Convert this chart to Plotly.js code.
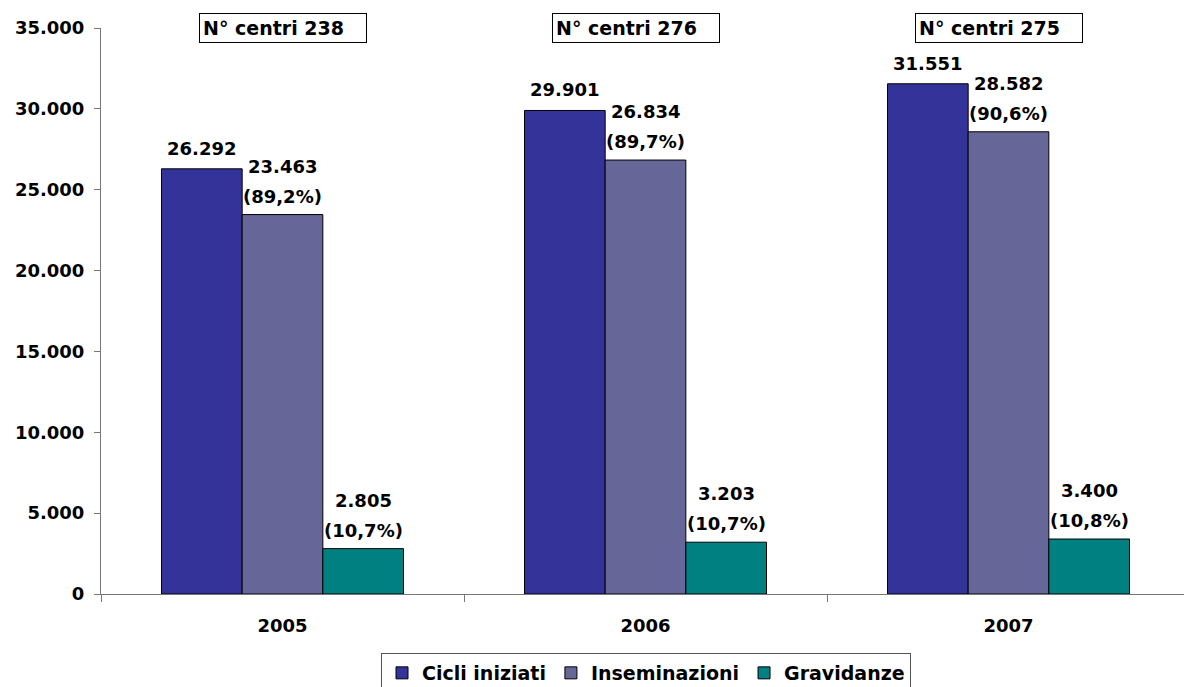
<!DOCTYPE html>
<html>
<head>
<meta charset="utf-8">
<script src="https://cdn.plot.ly/plotly-3.0.1.min.js"></script>
<style>html,body{margin:0;padding:0;background:#fff;}</style>
</head>
<body>
<div id="chart" style="width:1184px;height:687px;"></div>
<script>
// ---- data ----
var years = ["2005", "2006", "2007"];
var cicliIniziati = [26292, 29901, 31551];
var inseminazioni = [23463, 26834, 28582];
var gravidanze = [2805, 3203, 3400];
var pctInseminazioni = ["89,2%", "89,7%", "90,6%"];
var pctGravidanze = ["10,7%", "10,7%", "10,8%"];
var centriLabels = ["N° centri 238", "N° centri 276", "N° centri 275"];
var seriesNames = ["Cicli iniziati", "Inseminazioni", "Gravidanze"];

// ---- style / layout constants ----
var FONT = "DejaVu Sans, Arial, sans-serif";
var colors = ["#333399", "#666699", "#008080"];
var W = 1184, H = 687;
var mL = 101, mR = 0, mT = 28, mB = 93;
var plotW = W - mL - mR;
var catPx = 363;
var bargap = 1/3;
var barPx = catPx * (1 - bargap) / 3;

function fmt(n) { return String(n).replace(/\B(?=(\d{3})+(?!\d))/g, "."); }

var allSeries = [cicliIniziati, inseminazioni, gravidanze];
var traces = allSeries.map(function (vals, s) {
  return {
    type: "bar",
    name: seriesNames[s],
    x: years,
    y: vals,
    marker: { color: colors[s], line: { color: "#000000", width: 1 } },
    hoverinfo: "x+y+name"
  };
});

var annotations = [];
var lblFont = { family: FONT, size: 18, color: "#000", weight: "bold" };
var pctArrays = [null, pctInseminazioni, pctGravidanze];
for (var s = 0; s < 3; s++) {
  for (var i = 0; i < years.length; i++) {
    var xs = (s - 1) * barPx;
    var v = allSeries[s][i];
    if (pctArrays[s]) {
      annotations.push({ x: i, y: v, xref: "x", yref: "y", xshift: xs, yshift: 6,
        yanchor: "bottom", xanchor: "center", showarrow: false,
        text: "(" + pctArrays[s][i] + ")", font: lblFont });
      annotations.push({ x: i, y: v, xref: "x", yref: "y", xshift: xs, yshift: 36,
        yanchor: "bottom", xanchor: "center", showarrow: false,
        text: fmt(v), font: lblFont });
    } else {
      annotations.push({ x: i, y: v, xref: "x", yref: "y", xshift: xs, yshift: 8,
        yanchor: "bottom", xanchor: "center", showarrow: false,
        text: fmt(v), font: lblFont });
    }
  }
}
var boxLeftPx = [199, 552, 915];
for (var i = 0; i < centriLabels.length; i++) {
  annotations.push({
    x: (boxLeftPx[i] - mL) / plotW, y: 1, xref: "paper", yref: "paper",
    xanchor: "left", yanchor: "middle", showarrow: false,
    text: centriLabels[i], align: "left", width: 160, height: 22, borderpad: 3,
    bordercolor: "#000", borderwidth: 1, bgcolor: "#fff",
    font: { family: FONT, size: 19, color: "#000", weight: "bold" }
  });
}

var layout = {
  width: W, height: H,
  margin: { l: mL, r: mR, t: mT, b: mB, pad: 0, autoexpand: false },
  paper_bgcolor: "#fff", plot_bgcolor: "#fff",
  separators: ",.",
  barmode: "group", bargap: bargap, bargroupgap: 0,
  showlegend: true,
  font: { family: FONT, size: 18, color: "#000" },
  xaxis: {
    type: "category",
    range: [-0.5, -0.5 + plotW / catPx],
    showline: true, linecolor: "#777", linewidth: 1,
    ticks: "outside", tickson: "boundaries", ticklen: 7, tickcolor: "#777",
    showgrid: false, zeroline: false,
    ticklabelstandoff: 15,
    tickfont: { family: FONT, size: 18, color: "#000", weight: "bold" }
  },
  yaxis: {
    range: [0, 35000], tickvals: [0, 5000, 10000, 15000, 20000, 25000, 30000, 35000],
    tickformat: ",d",
    showline: true, linecolor: "#777", linewidth: 1,
    ticks: "outside", ticklen: 6, tickcolor: "#777",
    showgrid: false, zeroline: false,
    ticklabelstandoff: 6,
    tickfont: { family: FONT, size: 18, color: "#000", weight: "bold" }
  },
  legend: {
    orientation: "h", x: 646 / W, xref: "container", xanchor: "center",
    y: (H - 653) / H, yref: "container", yanchor: "top",
    bordercolor: "#555", borderwidth: 1, bgcolor: "#fff",
    itemwidth: 30, tracegroupgap: 0,
    font: { family: FONT, size: 19, color: "#000", weight: "bold" }
  },
  annotations: annotations
};

Plotly.newPlot("chart", traces, layout, { displayModeBar: false, staticPlot: true });
</script>
</body>
</html>
